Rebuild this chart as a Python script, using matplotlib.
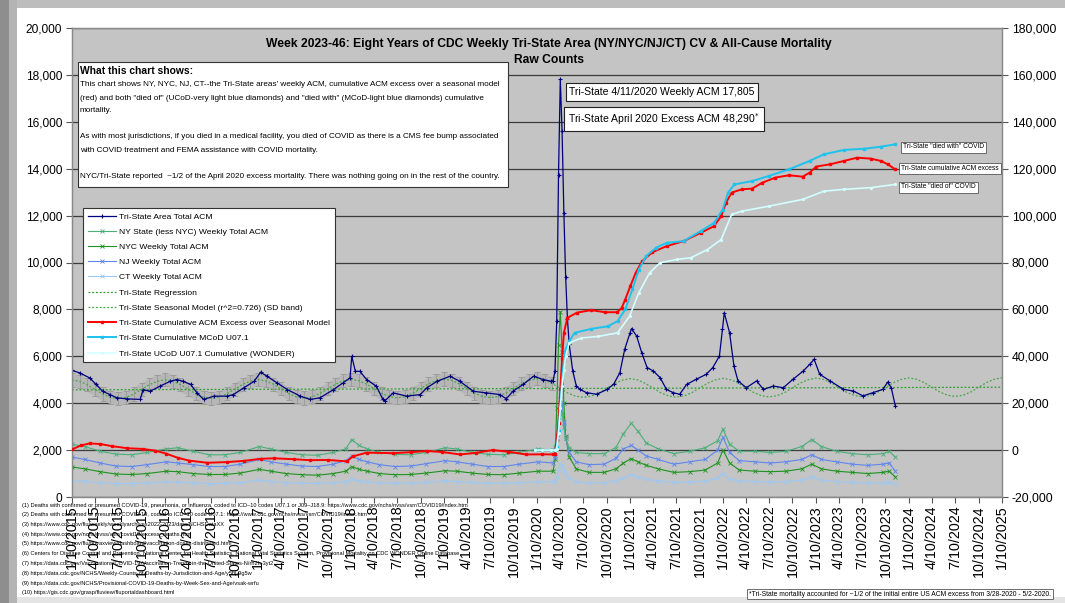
import numpy as np
import pandas as pd
import matplotlib
matplotlib.use("Agg")
import matplotlib.pyplot as plt
from matplotlib.lines import Line2D
from matplotlib.patches import Rectangle

plt.rcParams["font.family"] = ["Liberation Sans", "DejaVu Sans"]

W, H = 1065, 603


def fx(x):
    return x / W


def fy(y):
    return 1 - y / H


# ---------------------------------------------------------------------------
# data (left axis: weekly counts, right axis: cumulative)
# ---------------------------------------------------------------------------
tri_dates = [
    "2015-01-10", "2015-02-10", "2015-03-20", "2015-04-15", "2015-05-10", "2015-06-08",
    "2015-07-05", "2015-08-13", "2015-10-05", "2015-10-16", "2015-11-13", "2015-12-20",
    "2016-01-30", "2016-02-25", "2016-03-22", "2016-04-20", "2016-05-15", "2016-06-10",
    "2016-07-20", "2016-09-10", "2016-10-05", "2016-11-14", "2016-12-25", "2017-01-20",
    "2017-02-14", "2017-03-25", "2017-05-05", "2017-06-25", "2017-08-03", "2017-09-10",
    "2017-11-02", "2017-12-10", "2018-01-06", "2018-01-13", "2018-01-27", "2018-02-14",
    "2018-03-12", "2018-04-20", "2018-05-15", "2018-05-22", "2018-06-25", "2018-08-17",
    "2018-10-09", "2018-11-03", "2018-12-13", "2019-02-03", "2019-03-14", "2019-05-05",
    "2019-06-25", "2019-08-17", "2019-09-12", "2019-10-08", "2019-11-17", "2019-12-28",
    "2020-02-04", "2020-03-07", "2020-03-14", "2020-03-21", "2020-03-28", "2020-04-04",
    "2020-04-11", "2020-04-18", "2020-04-25", "2020-05-02", "2020-05-09", "2020-05-16",
    "2020-05-30", "2020-06-13", "2020-06-27", "2020-07-23", "2020-09-01", "2020-10-12",
    "2020-11-06", "2020-12-01", "2020-12-20", "2021-01-10", "2021-01-16", "2021-02-05",
    "2021-02-25", "2021-03-18", "2021-04-12", "2021-05-08", "2021-06-02", "2021-06-28",
    "2021-07-24", "2021-08-20", "2021-09-27", "2021-11-05", "2021-12-01", "2021-12-27",
    "2022-01-08", "2022-01-15", "2022-02-05", "2022-02-22", "2022-03-10", "2022-04-12",
    "2022-05-22", "2022-06-18", "2022-07-27", "2022-09-04", "2022-10-12", "2022-11-21",
    "2022-12-17", "2023-01-03", "2023-01-25", "2023-03-07", "2023-04-28", "2023-06-06",
    "2023-07-14", "2023-08-22", "2023-09-30", "2023-10-19", "2023-11-02", "2023-11-18",
]
tri_acm = [
    5400, 5290, 5080, 4800, 4510, 4370, 4230, 4185, 4160, 4580, 4510, 4720,
    4930, 5010, 4930, 4800, 4440, 4160, 4300, 4300, 4370, 4650, 4930, 5320,
    5150, 4870, 4580, 4300, 4160, 4230, 4580, 4870, 5080, 6000, 5360, 5360,
    5010, 4720, 4160, 4090, 4440, 4300, 4370, 4650, 4930, 5150, 4930, 4510,
    4440, 4370, 4190, 4510, 4800, 5150, 5010, 4930, 4950, 5380, 7490, 13740,
    17805, 15590, 12130, 9400, 7610, 6510, 5370, 4730, 4590, 4450, 4380, 4590,
    4800, 5300, 6300, 7000, 7180, 6860, 6150, 5520, 5370, 5090, 4590, 4450,
    4380, 4800, 5020, 5230, 5520, 6010, 7150, 7860, 7000, 5590, 4950, 4660,
    4950, 4590, 4730, 4660, 5020, 5370, 5660, 5870, 5230, 4950, 4590, 4520,
    4310, 4450, 4590, 4900, 4660, 3880,
]

state_dates = [
    "2015-01-10", "2015-03-01", "2015-05-01", "2015-07-01", "2015-09-01", "2015-11-01",
    "2016-01-15", "2016-03-01", "2016-05-01", "2016-07-01", "2016-09-01", "2016-11-01",
    "2017-01-15", "2017-03-01", "2017-05-01", "2017-07-01", "2017-09-01", "2017-11-01",
    "2017-12-20", "2018-01-13", "2018-02-10", "2018-03-15", "2018-05-01", "2018-07-01",
    "2018-09-01", "2018-11-01", "2019-01-15", "2019-03-01", "2019-05-01", "2019-07-01",
    "2019-09-01", "2019-11-01", "2020-01-15", "2020-03-14", "2020-03-21", "2020-03-28",
    "2020-04-04", "2020-04-11", "2020-04-18", "2020-04-25", "2020-05-02", "2020-05-16",
    "2020-06-13", "2020-08-01", "2020-10-01", "2020-11-15", "2020-12-15", "2021-01-15",
    "2021-02-10", "2021-03-15", "2021-05-01", "2021-07-01", "2021-09-01", "2021-11-01",
    "2021-12-20", "2022-01-10", "2022-02-05", "2022-03-15", "2022-05-15", "2022-07-15",
    "2022-09-15", "2022-11-15", "2022-12-25", "2023-02-01", "2023-04-01", "2023-06-01",
    "2023-08-01", "2023-10-01", "2023-10-25", "2023-11-18",
]
ny_state = [
    2250, 2150, 1950, 1830, 1800, 1900, 2050, 2100, 1950, 1800, 1800, 1900,
    2150, 2050, 1900, 1800, 1780, 1900, 2050, 2450, 2200, 2050, 1900, 1820,
    1800, 1900, 2100, 2050, 1900, 1820, 1800, 1900, 2050, 2000, 2150, 2700,
    3400, 3800, 3600, 3000, 2500, 2100, 1900, 1850, 1850, 2100, 2700, 3150,
    2800, 2300, 2050, 1850, 1950, 2100, 2400, 2900, 2250, 1950, 1950, 1900,
    1950, 2150, 2450, 2150, 1950, 1850, 1800, 1850, 1950, 1700,
]
nyc = [
    1280, 1200, 1080, 980, 960, 1000, 1100, 1080, 1000, 960, 960, 1020,
    1180, 1100, 1000, 950, 930, 1000, 1100, 1300, 1180, 1100, 1000, 950,
    960, 1020, 1120, 1100, 1020, 960, 950, 1020, 1100, 1100, 1600, 3800,
    6500, 7900, 6200, 4000, 2600, 1700, 1200, 1050, 1050, 1200, 1450, 1640,
    1500, 1350, 1200, 1050, 1080, 1150, 1450, 2000, 1450, 1150, 1100, 1080,
    1100, 1200, 1400, 1200, 1100, 1050, 1000, 1050, 1100, 850,
]
nj = [
    1700, 1600, 1450, 1320, 1300, 1380, 1500, 1450, 1380, 1300, 1300, 1400,
    1600, 1500, 1400, 1320, 1300, 1400, 1550, 1750, 1600, 1500, 1380, 1300,
    1320, 1420, 1550, 1500, 1400, 1300, 1300, 1400, 1500, 1450, 1700, 2500,
    3600, 4200, 4000, 3200, 2500, 1900, 1500, 1380, 1400, 1650, 2050, 2200,
    2000, 1750, 1600, 1400, 1500, 1600, 2000, 2550, 1900, 1550, 1500, 1450,
    1500, 1600, 1800, 1600, 1500, 1400, 1350, 1400, 1450, 1100,
]
ct = [
    700, 670, 610, 570, 575, 600, 640, 630, 600, 570, 580, 610,
    720, 660, 610, 580, 580, 610, 660, 750, 690, 650, 610, 580,
    590, 620, 680, 660, 620, 580, 585, 610, 650, 660, 680, 850,
    1150, 1400, 1350, 1150, 950, 800, 660, 600, 610, 700, 820, 950,
    860, 760, 680, 620, 640, 680, 800, 1000, 780, 680, 660, 640,
    660, 720, 860, 720, 660, 620, 600, 610, 620, 540,
]

# seasonal model, monthly (10th of each month 2015-01 .. 2025-01)
seasonal_model = [
    4990, 4930, 4790, 4590, 4390, 4250, 4200, 4250, 4390, 4590, 4790, 4930,
    5000, 4940, 4800, 4600, 4400, 4260, 4210, 4260, 4400, 4600, 4800, 4940,
    5010, 4950, 4810, 4610, 4410, 4270, 4220, 4270, 4410, 4610, 4810, 4950,
    5020, 4960, 4820, 4620, 4420, 4280, 4230, 4280, 4420, 4620, 4820, 4960,
    5030, 4970, 4830, 4630, 4430, 4290, 4240, 4290, 4430, 4630, 4830, 4970,
    5040, 4980, 4840, 4640, 4440, 4300, 4250, 4300, 4440, 4640, 4840, 4980,
    5050, 4990, 4850, 4650, 4450, 4310, 4260, 4310, 4450, 4650, 4850, 4990,
    5060, 5000, 4860, 4660, 4460, 4320, 4270, 4320, 4460, 4660, 4860, 5000,
    5070, 5010, 4870, 4670, 4470, 4330, 4280, 4330, 4470, 4670, 4870, 5010,
    5080, 5020, 4880, 4680, 4480, 4340, 4290, 4340, 4480, 4680, 4880, 5020,
    5090,
]
seasonal_sd = 280
sd_band_end = "2020-03-10"

regression_dates = ["2015-01-10", "2025-01-10"]
regression_vals = [4570, 4680]

excess_dates = [
    "2015-01-10", "2015-02-15", "2015-03-20", "2015-05-01", "2015-06-15", "2015-08-15",
    "2015-10-15", "2015-12-01", "2016-01-15", "2016-03-01", "2016-04-15", "2016-06-25",
    "2016-09-10", "2016-11-15", "2017-01-20", "2017-03-15", "2017-05-30", "2017-08-01",
    "2017-10-10", "2017-12-25", "2018-01-17", "2018-03-12", "2018-06-25", "2018-09-01",
    "2018-11-03", "2019-01-01", "2019-03-14", "2019-05-15", "2019-07-20", "2019-09-20",
    "2019-11-28", "2020-02-01", "2020-03-14", "2020-03-21", "2020-03-28", "2020-04-04",
    "2020-04-11", "2020-04-18", "2020-04-25", "2020-05-09", "2020-06-15", "2020-08-10",
    "2020-10-03", "2020-11-20", "2020-12-08", "2020-12-22", "2021-01-11", "2021-02-01",
    "2021-02-27", "2021-04-08", "2021-06-03", "2021-08-08", "2021-10-15", "2021-12-06",
    "2022-01-03", "2022-01-22", "2022-02-13", "2022-03-25", "2022-05-04", "2022-06-13",
    "2022-08-04", "2022-09-26", "2022-11-19", "2022-12-16", "2023-01-11", "2023-03-08",
    "2023-04-30", "2023-06-21", "2023-08-13", "2023-09-23", "2023-10-19", "2023-11-18",
]
cum_excess = [
    300, 2000, 2850, 2600, 1700, 800, 500, -200, -1500, -3300, -4500, -5400,
    -5100, -4600, -3700, -3500, -3900, -4300, -4200, -4800, -2700, -1100, -1300, -900,
    -400, -800, -1850, -1200, 0, -700, -1850, -1800, -1850, -1500, 4500, 11600,
    25900, 38700, 50000, 56400, 58600, 59700, 58800, 58800, 60600, 64200, 69900, 75600,
    80600, 84400, 87000, 89100, 92700, 95500, 99800, 105500, 109800, 111200, 111500, 114000,
    116200, 117200, 116600, 118300, 120900, 121900, 123300, 124700, 124300, 123300, 121900, 119700,
]

mcod_dates = [
    "2020-01-04", "2020-02-01", "2020-03-07", "2020-03-21", "2020-03-28", "2020-04-04",
    "2020-04-11", "2020-04-18", "2020-04-25", "2020-05-02", "2020-05-16", "2020-06-06",
    "2020-08-10", "2020-10-15", "2020-11-22", "2020-12-22", "2021-01-19", "2021-02-13",
    "2021-03-14", "2021-04-22", "2021-06-03", "2021-08-08", "2021-10-15", "2021-12-06",
    "2022-01-09", "2022-01-30", "2022-02-24", "2022-05-04", "2022-07-09", "2022-09-26",
    "2022-12-16", "2023-02-10", "2023-04-30", "2023-07-19", "2023-09-23", "2023-11-18",
]
mcod_cum = [
    0, 0, 0, 0, 1500, 8000, 19000, 30000, 38000, 43000, 46400, 50000,
    51700, 52800, 55000, 60000, 68500, 77000, 82700, 86300, 88400, 89100, 93400, 96900,
    102600, 109800, 113300, 114700, 116900, 119700, 123300, 126100, 128000, 128500, 129400, 130400,
]

ucod_dates = [
    "2020-01-04", "2020-02-01", "2020-03-07", "2020-03-21", "2020-03-28", "2020-04-04",
    "2020-04-11", "2020-04-18", "2020-04-25", "2020-05-02", "2020-05-16", "2020-07-02",
    "2020-09-08", "2020-11-22", "2021-01-08", "2021-02-13", "2021-03-28", "2021-05-08",
    "2021-07-13", "2021-09-05", "2021-11-10", "2022-01-03", "2022-02-13", "2022-03-25",
    "2022-07-09", "2022-11-19", "2023-02-10", "2023-04-30", "2023-08-13", "2023-11-18",
]
ucod_cum = [
    0, 0, 0, 0, 500, 7400, 18000, 27300, 34000, 40000, 45700, 47800,
    48500, 50000, 57100, 67000, 75600, 79900, 81300, 82000, 85500, 89800, 100500, 101900,
    104000, 106900, 110400, 111200, 111900, 113300,
]

legend_labels = [
    "Tri-State Area Total ACM",
    "NY State (less NYC) Weekly Total ACM",
    "NYC Weekly Total ACM",
    "NJ Weekly Total ACM",
    "CT Weekly Total ACM",
    "Tri-State Regression",
    "Tri-State Seasonal Model (r^2=0.726) (SD band)",
    "Tri-State Cumulative ACM Excess over Seasonal Model",
    "Tri-State Cumulative MCoD U07.1",
    "Tri-State UCoD U07.1 Cumulative (WONDER)",
]

title = ("Week 2023-46: Eight Years of CDC Weekly Tri-State Area (NY/NYC/NJ/CT) CV & All-Cause Mortality\n"
         "Raw Counts")

info_head = "What this chart shows:"
info_lines = [
    "This chart shows NY, NYC, NJ, CT--the Tri-State areas' weekly ACM, cumulative ACM excess over a seasonal model",
    "(red) and both \"died of\" (UCoD-very light blue diamonds) and \"died with\" (MCoD-light blue diamonds) cumulative",
    "mortality.",
    "",
    "As with most jurisdictions, if you died in a medical facility, you died of COVID as there is a CMS fee bump associated",
    "with COVID treatment and FEMA assistance with COVID mortality.",
    "",
    "NYC/Tri-State reported  ~1/2 of the April 2020 excess mortality. There was nothing going on in the rest of the country.",
]

footnotes = [
    "(1) Deaths with confirmed or presumed COVID-19, pneumonia, or influenza, coded to ICD–10 codes U07.1 or J09–J18.9: https://www.cdc.gov/nchs/nvss/vsrr/COVID19/index.htm",
    "(2) Deaths with confirmed or presumed COVID-19, coded to ICD–10 code U07.1: https://www.cdc.gov/nchs/nvss/vsrr/COVID19/index.htm",
    "(3) https://www.cdc.gov/flu/weekly/weeklyarchives2022-2023/data/NCHSDataXX",
    "(4) https://www.cdc.gov/nchs/nvss/vsrr/covid19/excess_deaths.htm",
    "(5) https://www.cdc.gov/flu/fluvaxview/dashboard/vaccination-doses-distributed.html",
    "(6) Centers for Disease Control and Prevention, National Center for Health Statistics. National Vital Statistics System, Provisional Mortality on CDC WONDER Online Database",
    "(7) https://data.cdc.gov/Vaccinations/COVID-19-Vaccination-Trends-in-the-United-States-N/rh2h-3yt2",
    "(8) https://data.cdc.gov/NCHS/Weekly-Counts-of-Deaths-by-Jurisdiction-and-Age/y5bj-9g5w",
    "(9) https://data.cdc.gov/NCHS/Provisional-COVID-19-Deaths-by-Week-Sex-and-Age/vsak-wrfu",
    "(10) https://gis.cdc.gov/grasp/fluview/fluportaldashboard.html",
]

# ---------------------------------------------------------------------------
fig = plt.figure(figsize=(W / 100, H / 100), dpi=100, facecolor="white")

# window frame / shadow
fig.patches.append(Rectangle((0, fy(8)), 1, 8 / H, transform=fig.transFigure,
                             fc="#bdbdbd", ec="none", zorder=-5))
fig.patches.append(Rectangle((0, 0), 1, 6 / H, transform=fig.transFigure,
                             fc="#e4e4e4", ec="none", zorder=-5))
fig.patches.append(Rectangle((0, 0), 9 / W, 1, transform=fig.transFigure,
                             fc="#8e8e8e", ec="none", zorder=-4))
fig.patches.append(Rectangle((9 / W, 0), 8 / W, 1, transform=fig.transFigure,
                             fc="#b4b4b4", ec="none", zorder=-4))

ax = fig.add_axes([fx(72), fy(497), (1002 - 72) / W, (497 - 28) / H])
ax.set_facecolor("#c4c4c4")
ax2 = ax.twinx()

tri_d = pd.to_datetime(tri_dates)
st_d = pd.to_datetime(state_dates)
seas_d = pd.to_datetime([f"{y}-{m:02d}-10" for y in range(2015, 2025) for m in range(1, 13)] + ["2025-01-10"])
seas_v = np.array(seasonal_model)
band = seas_d <= pd.Timestamp(sd_band_end)

# SD band (error bars around the seasonal model)
ax.fill_between(seas_d[band], seas_v[band] - seasonal_sd, seas_v[band] + seasonal_sd,
                color="#b6b6b6", lw=0, zorder=1)
ax.errorbar(seas_d[band], seas_v[band], yerr=seasonal_sd, fmt="none",
            ecolor="#9c9c9c", elinewidth=0.7, capsize=2, capthick=0.7, zorder=1.5)

green_dot = "#2e9e2e"
ax.plot(pd.to_datetime(regression_dates), regression_vals, ls=(0, (1.5, 1.5)), color=green_dot, lw=0.9, zorder=2)
ax.plot(seas_d, seas_v, ls=(0, (1.5, 1.5)), color="#45a845", lw=0.9, zorder=2)

state_style = dict(marker="x", ms=2.5, mew=0.6, lw=0.8, zorder=3)
ax.plot(st_d, ct, color="#9cc9f5", **state_style)
ax.plot(st_d, nyc, color="#1e931e", **state_style)
ax.plot(st_d, nj, color="#5f86ee", **state_style)
ax.plot(st_d, ny_state, color="#4aae78", **state_style)
ax.plot(tri_d, tri_acm, color="#000080", marker="+", ms=3.5, mew=0.8, lw=0.9, zorder=4)

ax2.plot(pd.to_datetime(excess_dates), cum_excess, color="#ff0000", marker="s", ms=2, lw=1.4, zorder=5)
ax2.plot(pd.to_datetime(mcod_dates), mcod_cum, color="#1cc3ee", marker="s", ms=1.6, lw=1.4, zorder=5)
ax2.plot(pd.to_datetime(ucod_dates), ucod_cum, color="#d2ffff", marker=".", ms=2.5, lw=1.2, zorder=5)

# axes, ticks
xmin, xmax = pd.Timestamp("2015-01-10"), pd.Timestamp("2025-01-10")
ax.set_xlim(xmin, xmax)
ax.set_ylim(0, 20000)
ax2.set_ylim(-20000, 180000)
ax.set_yticks(np.arange(0, 20001, 2000))
ax2.set_yticks(np.arange(-20000, 180001, 20000))
ax.set_yticklabels([f"{v:,}" for v in range(0, 20001, 2000)], fontsize=8.6)
ax2.set_yticklabels([f"{v:,}" for v in range(-20000, 180001, 20000)], fontsize=8.8)

xt = [pd.Timestamp(y, m, 10) for y in range(2015, 2026) for m in (1, 4, 7, 10)
      if pd.Timestamp(y, m, 10) <= xmax]
ax.set_xticks(xt)
ax.set_xticklabels([f"{t.month}/{t.day}/{t.year}" for t in xt], rotation=90, fontsize=10.3)
ax.tick_params(axis="both", length=4, width=0.8, color="#555555", pad=2)
ax.tick_params(axis="y", pad=3)
ax2.tick_params(axis="y", length=4, width=0.8, color="#555555", pad=3)

ax.yaxis.grid(True, color="#3c3c3c", lw=0.9)
ax.set_axisbelow(True)
for a in (ax, ax2):
    for s in a.spines.values():
        s.set_color("#8a8a8a")
        s.set_linewidth(0.9)

# legend
handles = [
    Line2D([], [], color="#000080", marker="+", ms=3.5, mew=0.8, lw=0.9),
    Line2D([], [], color="#4aae78", **state_style),
    Line2D([], [], color="#1e931e", **state_style),
    Line2D([], [], color="#5f86ee", **state_style),
    Line2D([], [], color="#9cc9f5", **state_style),
    Line2D([], [], color=green_dot, ls=(0, (1.5, 1.5)), lw=0.9),
    Line2D([], [], color="#45a845", ls=(0, (1.5, 1.5)), lw=0.9),
    Line2D([], [], color="#ff0000", marker="s", ms=2, lw=1.4),
    Line2D([], [], color="#1cc3ee", marker="s", ms=1.6, lw=1.4),
    Line2D([], [], color="#d2ffff", marker=".", ms=2.5, lw=1.2),
]
leg = ax2.legend(handles, legend_labels, loc="upper left",
                 bbox_to_anchor=(fx(83), fy(208)), bbox_transform=fig.transFigure,
                 fontsize=6.1, frameon=True, fancybox=False, framealpha=1,
                 edgecolor="#333333", borderpad=0.55, labelspacing=0.86,
                 handlelength=3.4, handletextpad=0.3, borderaxespad=0)
leg.get_frame().set_linewidth(0.8)
leg.set_zorder(20)

# title
fig.text(fx(549), fy(52), title, ha="center", va="center", fontsize=8.7,
         fontweight="bold", linespacing=1.55)

# info box
fig.patches.append(Rectangle((fx(78), fy(187)), (508 - 78) / W, (187 - 62) / H,
                             transform=fig.transFigure, fc="white", ec="#333333",
                             lw=0.8, zorder=2))
fig.text(fx(80), fy(71), info_head, ha="left", va="center", fontsize=7.4, fontweight="bold", zorder=3)
for i, line in enumerate(info_lines):
    fig.text(fx(80), fy(85 + 13 * i), line, ha="left", va="center", fontsize=5.85, zorder=3)

# annotation boxes
box = dict(boxstyle="square,pad=0.35", fc="white", ec="#222222", lw=0.8)
fig.text(fx(662), fy(92), "Tri-State 4/11/2020 Weekly ACM 17,805", ha="center", va="center",
         fontsize=7.5, bbox=box, zorder=6)
fig.text(fx(664), fy(119), "Tri-State April 2020 Excess ACM 48,290$^{*}$", ha="center", va="center",
         fontsize=7.5, bbox=box, zorder=6)

small_box = dict(boxstyle="square,pad=0.3", fc="white", ec="#555555", lw=0.6)
fig.text(fx(903), fy(147), "Tri-State \"died with\" COVID", ha="left", va="center",
         fontsize=4.8, bbox=small_box, zorder=6)
fig.text(fx(901), fy(168), "Tri-State cumulative ACM excess", ha="left", va="center",
         fontsize=4.8, bbox=small_box, zorder=6)
fig.text(fx(901), fy(187), "Tri-State \"died of\" COVID", ha="left", va="center",
         fontsize=4.8, bbox=small_box, zorder=6)

# footnotes
for i, note in enumerate(footnotes):
    fig.text(fx(22), fy(505 + 9.75 * i), note, ha="left", va="center", fontsize=4.05, zorder=6)

fig.text(fx(900), fy(594), "*Tri-State mortality accounted for ~1/2 of the initial entire US ACM excess from 3/28-2020 - 5/2-2020.",
         ha="center", va="center", fontsize=4.9,
         bbox=dict(boxstyle="square,pad=0.25", fc="white", ec="#555555", lw=0.6), zorder=6)

fig.savefig("out.png", dpi=100, facecolor=fig.get_facecolor())
